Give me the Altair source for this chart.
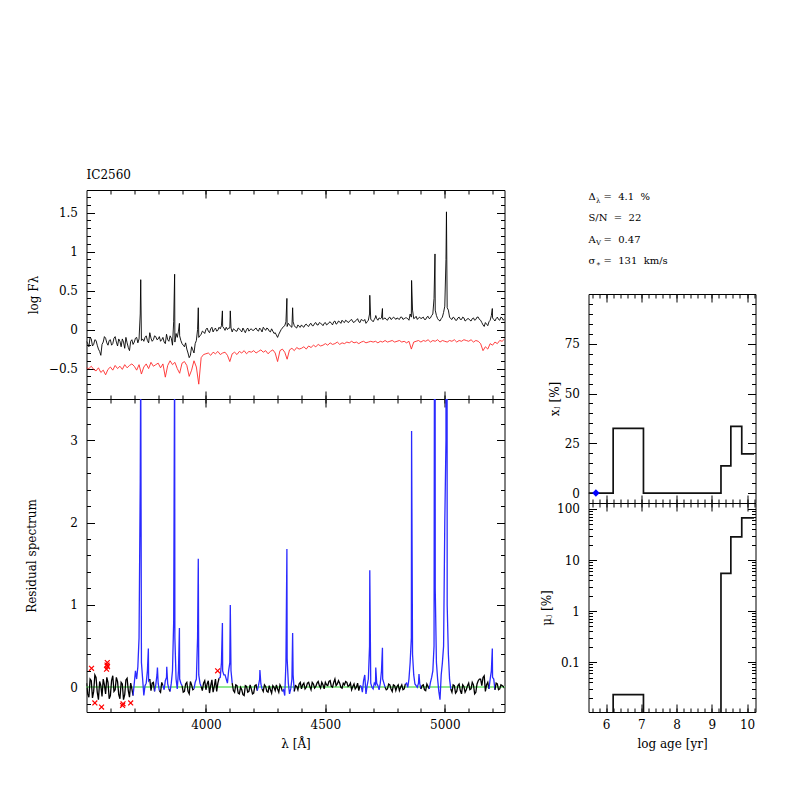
import altair as alt
import numpy as np
import pandas as pd

FONT = "DejaVu Serif"
NB = "\u00a0"

# ---------------- data ----------------
wave_start, wave_end, wave_step = 3500, 5250, 10

# observed log flux on the 10 A grid (3500..5250)
obs_logf = [
    -0.15, -0.22, -0.12, -0.19, -0.14, -0.25, -0.33, -0.16, -0.11, -0.20,
    -0.13, -0.18, -0.09, -0.21, -0.15, -0.12, -0.24, -0.17, -0.27, -0.13,
    -0.16, -0.10, -0.12, -0.14, -0.15, -0.08, -0.17, -0.11, -0.13, -0.09,
    -0.12, -0.15, -0.10, -0.18, -0.13, -0.08, -0.20, -0.16, -0.10, -0.08,
    -0.18, -0.22, -0.25, -0.36, -0.22, -0.30, -0.14, -0.10, -0.06, -0.03,
    0.00, -0.02, 0.01, -0.03, 0.02, -0.01, 0.01, 0.04, -0.01, 0.00,
    0.02, -0.03, 0.00, -0.02, 0.01, -0.03, -0.01, 0.00, -0.02, 0.01,
    -0.01, 0.02, -0.02, 0.00, 0.03, -0.01, 0.01, -0.03, -0.02, -0.04,
    -0.10, -0.03, 0.02, 0.05, 0.04, 0.06, 0.03, 0.05, 0.02, 0.04,
    0.06, 0.03, 0.07, 0.04, 0.08, 0.05, 0.09, 0.06, 0.08, 0.05,
    0.09, 0.07, 0.10, 0.06, 0.11, 0.08, 0.10, 0.12, 0.09, 0.11,
    0.10, 0.13, 0.09, 0.12, 0.10, 0.13, 0.11, 0.08, 0.12, 0.13,
    0.10, 0.16, 0.12, 0.14, 0.13, 0.15, 0.12, 0.16, 0.14, 0.15,
    0.15, 0.13, 0.16, 0.14, 0.15, 0.12, 0.16, 0.14, 0.17, 0.15,
    0.14, 0.16, 0.13, 0.17, 0.15, 0.20, 0.25, 0.14, 0.11, 0.16,
    0.30, 0.28, 0.16, 0.13, 0.15, 0.12, 0.16, 0.13, 0.15, 0.12,
    0.14, 0.11, 0.15, 0.13, 0.16, 0.12, 0.06, 0.09, 0.05, 0.12,
    0.15, 0.11, 0.16, 0.12, 0.15, 0.14,
]
# observed log flux at the half steps (3505..5245)
obs_logf_half = [
    -0.18, -0.10, -0.21, -0.13, -0.20, -0.28, -0.19, -0.09, -0.17, -0.14,
    -0.20, -0.11, -0.16, -0.12, -0.22, -0.16, -0.10, -0.23, -0.15, -0.19,
    -0.11, -0.17, 0.20, -0.12, -0.10, -0.14, -0.04, -0.15, -0.08, -0.13,
    -0.09, -0.13, -0.16, -0.06, -0.15, -0.11, 0.10, -0.05, -0.02, -0.14,
    -0.20, -0.17, -0.30, -0.33, -0.26, -0.18, 0.00, -0.08, -0.02, -0.05,
    0.02, -0.04, 0.03, 0.00, -0.02, 0.03, 0.05, 0.02, 0.03, 0.02,
    0.02, 0.01, -0.02, 0.02, -0.01, 0.02, -0.04, 0.02, 0.00, -0.01,
    0.01, -0.01, 0.02, -0.03, 0.01, 0.02, -0.02, 0.01, -0.05, -0.07,
    -0.06, 0.00, 0.04, 0.10, 0.08, 0.04, 0.10, 0.03, 0.06, 0.03,
    0.04, 0.06, 0.05, 0.07, 0.05, 0.08, 0.06, 0.09, 0.07, 0.08,
    0.06, 0.09, 0.08, 0.10, 0.07, 0.11, 0.08, 0.10, 0.12, 0.09,
    0.12, 0.10, 0.11, 0.14, 0.09, 0.12, 0.13, 0.10, 0.20, 0.12,
    0.13, 0.14, 0.15, 0.15, 0.14, 0.13, 0.15, 0.13, 0.16, 0.13,
    0.14, 0.16, 0.13, 0.15, 0.14, 0.20, 0.25, 0.15, 0.13, 0.16,
    0.15, 0.13, 0.16, 0.14, 0.18, 0.40, 0.18, 0.12, 0.14, 0.22,
    0.90, 0.25, 0.14, 0.16, 0.12, 0.15, 0.13, 0.16, 0.11, 0.14,
    0.12, 0.14, 0.12, 0.16, 0.13, 0.09, 0.04, 0.07, 0.10, 0.18,
    0.13, 0.14, 0.13, 0.16, 0.12,
]
obs_peak_wave = [3727, 3869, 3889, 3968, 4069, 4102, 4339, 4363, 4686, 4711,
                 4739, 4861, 4959, 5007, 5199]
obs_peak_logf = [0.64, 0.71, 0.08, 0.28, 0.24, 0.24, 0.40, 0.28, 0.44, 0.18,
                 0.27, 0.63, 0.97, 1.51, 0.27]

# model log flux (shown offset below the data) on the 10 A grid
model_logf = [
    -0.49, -0.50, -0.47, -0.51, -0.53, -0.49, -0.55, -0.52, -0.58, -0.51,
    -0.48, -0.52, -0.46, -0.50, -0.47, -0.51, -0.45, -0.49, -0.46, -0.44,
    -0.47, -0.52, -0.45, -0.57, -0.48, -0.44, -0.50, -0.42, -0.47, -0.45,
    -0.43, -0.49, -0.44, -0.61, -0.46, -0.40, -0.45, -0.42, -0.50, -0.56,
    -0.43, -0.41, -0.46, -0.60, -0.52, -0.40, -0.48, -0.70, -0.36, -0.32,
    -0.31, -0.30, -0.33, -0.29, -0.31, -0.28, -0.32, -0.30, -0.29, -0.33,
    -0.41, -0.31, -0.29, -0.32, -0.28, -0.30, -0.27, -0.31, -0.28, -0.29,
    -0.27, -0.30, -0.28, -0.26, -0.29, -0.27, -0.31, -0.28, -0.26, -0.30,
    -0.41, -0.27, -0.25, -0.29, -0.38, -0.26, -0.24, -0.27, -0.23, -0.25,
    -0.24, -0.22, -0.25, -0.21, -0.23, -0.20, -0.22, -0.19, -0.21, -0.20,
    -0.18, -0.20, -0.17, -0.19, -0.18, -0.16, -0.19, -0.17, -0.18, -0.16,
    -0.17, -0.15, -0.17, -0.16, -0.18, -0.16, -0.15, -0.17, -0.16, -0.15,
    -0.16, -0.15, -0.17, -0.15, -0.16, -0.14, -0.16, -0.15, -0.14, -0.16,
    -0.15, -0.14, -0.16, -0.15, -0.17, -0.15, -0.25, -0.16, -0.15, -0.14,
    -0.16, -0.14, -0.15, -0.13, -0.16, -0.14, -0.15, -0.13, -0.16, -0.14,
    -0.15, -0.16, -0.14, -0.15, -0.13, -0.16, -0.14, -0.15, -0.13, -0.14,
    -0.15, -0.13, -0.16, -0.14, -0.15, -0.18, -0.27, -0.22, -0.25, -0.18,
    -0.20, -0.16, -0.18, -0.14, -0.15, -0.12,
]

# residual spectrum on the 10 A grid
resid = [
    0.05, -0.12, 0.08, -0.05, 0.12, -0.15, 0.02, 0.10, -0.08, 0.06,
    -0.10, 0.14, -0.03, 0.07, -0.14, 0.04, -0.09, 0.11, -0.12, -0.02,
    0.05, 0.10, 0.60, 0.30, -0.10, 0.05, 0.08, -0.04, 0.06, 0.03,
    0.05, -0.06, 0.02, 0.08, 0.04, -0.05, 0.20, 0.60, -0.02, 0.10,
    0.02, -0.05, 0.06, -0.08, 0.03, -0.02, 0.10, 0.15, 0.01, 0.05,
    -0.03, 0.08, 0.02, -0.06, 0.10, 0.05, 0.12, 0.20, 0.15, 0.05,
    0.30, 0.05, -0.06, 0.02, -0.08, -0.03, -0.10, 0.01, -0.05, -0.02,
    -0.07, 0.03, 0.02, 0.04, -0.05, 0.01, -0.06, -0.03, 0.02, -0.04,
    -0.02, 0.03, -0.05, -0.10, 0.35, -0.08, 0.10, -0.05, 0.01, 0.04,
    -0.02, 0.05, 0.00, 0.06, -0.03, 0.04, 0.01, 0.07, -0.01, 0.03,
    0.06, 0.02, 0.08, 0.00, 0.10, 0.04, 0.05, -0.01, 0.03, 0.06,
    0.02, -0.03, 0.04, 0.00, -0.04, 0.01, 0.08, -0.08, 0.10, 0.05,
    -0.02, 0.03, 0.02, 0.05, 0.10, 0.00, -0.02, 0.03, -0.05, 0.02,
    0.01, -0.04, 0.03, -0.02, 0.05, 0.10, 0.60, 0.15, 0.02, 0.05,
    -0.02, 0.03, -0.04, 0.01, 0.06, 0.20, 1.20, 0.10, -0.15, 0.30,
    2.00, 1.00, 0.10, -0.06, 0.02, -0.05, 0.04, -0.08, 0.01, -0.03,
    0.05, -0.02, 0.03, -0.06, 0.08, 0.10, 0.12, -0.05, 0.06, 0.10,
    0.12, -0.03, 0.04, -0.02, 0.02, -0.01,
]
# residual at the half steps (3505..5245)
resid_half = [
    -0.08, 0.10, -0.13, 0.15, -0.06, 0.07, -0.11, 0.03, 0.12, -0.14,
    0.08, -0.05, 0.12, -0.09, 0.06, -0.15, 0.09, -0.04, 0.05, -0.10,
    0.20, 0.25, 2.50, 0.10, 0.02, 0.20, 0.10, 0.05, -0.05, 0.15,
    -0.04, 0.06, -0.03, 0.12, -0.02, 0.05, 0.80, 0.10, 0.20, 0.05,
    -0.06, 0.04, -0.05, 0.07, -0.03, 0.06, 0.60, 0.05, -0.04, 0.08,
    0.04, -0.07, 0.09, 0.01, -0.05, 0.11, 0.30, 0.15, 0.10, 0.20,
    0.20, -0.04, 0.03, -0.07, 0.00, -0.09, 0.02, -0.06, 0.03, -0.08,
    0.02, -0.04, 0.10, -0.02, 0.03, -0.05, 0.02, -0.07, 0.00, 0.03,
    -0.06, 0.00, -0.03, 0.30, 0.05, -0.02, 0.15, 0.02, -0.03, 0.06,
    0.03, -0.02, 0.05, 0.01, 0.06, -0.01, 0.05, 0.02, 0.06, -0.02,
    0.03, 0.07, 0.01, 0.06, 0.02, 0.08, 0.00, 0.05, 0.07, 0.01,
    0.05, 0.01, -0.02, 0.05, 0.02, -0.06, 0.15, 0.02, 0.50, 0.00,
    0.05, 0.05, -0.03, 0.20, 0.05, -0.03, 0.04, -0.02, 0.03, -0.04,
    0.03, 0.00, -0.03, 0.04, 0.00, 0.30, 0.40, 0.04, 0.00, 0.05,
    0.02, -0.03, 0.04, -0.02, 0.12, 0.50, 0.30, -0.05, 0.15, 0.50,
    3.00, 0.40, -0.02, 0.03, -0.07, 0.02, -0.04, 0.03, -0.06, 0.02,
    -0.03, 0.06, -0.08, 0.04, 0.10, 0.02, 0.14, 0.03, -0.02, 0.20,
    0.10, 0.05, -0.03, 0.03, 0.01,
]
res_peak_wave = [3727, 3759, 3797, 3836, 3869, 3889, 3968, 4069, 4102, 4226,
                 4339, 4363, 4686, 4711, 4739, 4861, 4892, 4959, 5007, 5199]
res_peak_val = [4.0, 0.47, 0.24, 0.25, 4.2, 0.72, 1.56, 0.78, 1.0, 0.21,
                1.68, 0.66, 1.42, 0.24, 0.48, 3.11, 0.16, 9.0, 27.0, 0.47]

mask_windows = [(3700, 3745), (3750, 3765), (3790, 3805), (3825, 3845),
                (3855, 3900), (3955, 3980), (4060, 4110), (4218, 4235),
                (4325, 4370), (4650, 4750), (4840, 4900), (4940, 5025),
                (5190, 5210)]

flag_wave = [3521, 3535, 3563, 3584, 3586, 3587, 3588, 3651, 3653, 3685, 4049]
flag_val = [0.23, -0.19, -0.24, 0.22, 0.27, 0.30, 0.25, -0.22, -0.20, -0.19, 0.20]

age_edges = [5.5, 6.2, 7.06, 9.26, 9.54, 9.85, 10.2]
xj_pct = [0, 32.5, 0, 13.7, 33.5, 19.7]
muj_pct = [0, 0.023, 0, 5.5, 28.5, 67.0]
young_age, young_xj = 5.71, 0

info_head = ["\u0394", "S/N" + NB * 2 + "=" + NB * 2 + "22", "A", "\u03c3"]
info_sub = ["\u03bb", "", "V", "\u2217"]
info_tail = ["=" + NB * 2 + "4.1" + NB * 2 + "%", "",
             "=" + NB * 2 + "0.47",
             "=" + NB * 2 + "131" + NB * 2 + "km/s"]

# ---------------- tables ----------------
grid = list(range(wave_start, wave_end + 1, wave_step))
grid_half = list(range(wave_start + wave_step // 2, wave_end, wave_step))

obs_df = pd.DataFrame({"w": grid + grid_half + obs_peak_wave,
                       "f": obs_logf + obs_logf_half + obs_peak_logf}).sort_values("w", kind="stable")
mod_df = pd.DataFrame({"w": grid, "f": model_logf})

rw = grid + grid_half + res_peak_wave
rv = resid + resid_half + res_peak_val
order = np.argsort(rw, kind="stable")
rows, seg, prev = [], 0, None
for i in order:
    w, v = rw[i], rv[i]
    m = any(a <= w <= b for a, b in mask_windows)
    kind = "masked" if m else "fit"
    if prev is not None and m != prev[2]:
        seg += 1
        rows.append({"w": prev[0], "r": prev[1], "seg": seg, "kind": kind})
    rows.append({"w": w, "r": v, "seg": seg, "kind": kind})
    prev = (w, v, m)
res_df = pd.DataFrame(rows)
flag_df = pd.DataFrame({"w": flag_wave, "r": flag_val})

sfh_df = pd.DataFrame({
    "age": age_edges,
    "xj": xj_pct + [xj_pct[-1]],
    "mu": [v if v > 0 else 1e-4 for v in muj_pct + [muj_pct[-1]]],
})
young_df = pd.DataFrame({"age": [young_age], "xj": [young_xj]})
info_df = pd.DataFrame({"row": list(range(len(info_head))), "head": info_head,
                        "sub": info_sub, "tail": info_tail})

# ---------------- helpers ----------------
def ax(orient, values, major=True, labels=False, title=None, title_pad=None):
    size = 8 if major else 4
    kw = dict(orient=orient, values=values, tickSize=size, offset=-size, domain=False,
              grid=False, labels=labels, ticks=True, tickColor="black", tickWidth=1,
              labelFlush=False, labelPadding=9 if orient in ("left", "right") else 7,
              title=title, format=".6~g")
    if title_pad is not None:
        kw["titlePadding"] = title_pad
    return alt.Axis(**kw)


def axis_layers(df, xf, yf, xs, ys, xmaj, xmin, ymaj, ymin, xlabels, xtitle, ytitle, ytp, xtp=8):
    base = alt.Chart(df).mark_point(opacity=0, clip=True)
    out = []
    specs = [
        ("bottom", "left", True, xlabels, True, xtitle, ytitle),
        ("top", "right", True, False, False, None, None),
        ("bottom", "left", False, False, False, None, None),
        ("top", "right", False, False, False, None, None),
    ]
    for xo, yo, major, xl, yl, xt, yt in specs:
        out.append(base.encode(
            x=alt.X(f"{xf}:Q", scale=xs,
                    axis=ax(xo, xmaj if major else xmin, major, xl, xt, xtp)),
            y=alt.Y(f"{yf}:Q", scale=ys,
                    axis=ax(yo, ymaj if major else ymin, major, yl, yt, ytp)),
        ))
    return out


def frange(a, b, s):
    return [round(v, 4) for v in np.arange(a, b + s / 2, s)]

# ---------------- scales ----------------
x_wave = alt.Scale(domain=[3500, 5250], nice=False, zero=False)
y_top = alt.Scale(domain=[-0.89, 1.79], nice=False, zero=False)
y_bot = alt.Scale(domain=[-0.3, 3.5], nice=False, zero=False)
x_age = alt.Scale(domain=[5.5, 10.24], nice=False, zero=False)
y_xj = alt.Scale(domain=[-5, 100], nice=False, zero=False)
y_mu = alt.Scale(type="log", domain=[0.01055, 131], nice=False)

wave_major = [4000, 4500, 5000]
wave_minor = frange(3600, 5200, 100)

# ---------------- top-left panel ----------------
tl_axes = axis_layers(mod_df, "w", "f", x_wave, y_top, wave_major, wave_minor,
                      [-0.5, 0, 0.5, 1, 1.5], frange(-0.8, 1.7, 0.1),
                      False, None, "log F\u03bb", 8)
obs_line = alt.Chart(obs_df).mark_line(color="black", strokeWidth=0.9, clip=True).encode(
    x=alt.X("w:Q", scale=x_wave, axis=None), y=alt.Y("f:Q", scale=y_top, axis=None),
    order="w:Q")
mod_line = alt.Chart(mod_df).mark_line(color="#ff2a2a", strokeWidth=0.9, clip=True).encode(
    x=alt.X("w:Q", scale=x_wave, axis=None), y=alt.Y("f:Q", scale=y_top, axis=None))
top_left = alt.layer(*tl_axes, mod_line, obs_line).resolve_axis(
    x="independent", y="independent").properties(
    width=418, height=209,
    title=alt.TitleParams("IC2560", anchor="start", frame="group", font=FONT, fontSize=12,
                          fontWeight="normal", offset=8, color="black"))

# ---------------- bottom-left panel ----------------
bl_axes = axis_layers(res_df, "w", "r", x_wave, y_bot, wave_major, wave_minor,
                      [0, 1, 2, 3], frange(-0.2, 3.4, 0.2),
                      True, "\u03bb [\u00c5]", "Residual spectrum", 31)
zero_line = alt.Chart(res_df).mark_rule(color="#90e890", strokeWidth=1.6).encode(
    y=alt.YDatum(0, scale=y_bot, axis=None))
res_line = alt.Chart(res_df).mark_line(strokeWidth=1.3, clip=True).encode(
    x=alt.X("w:Q", scale=x_wave, axis=None),
    y=alt.Y("r:Q", scale=y_bot, axis=None),
    detail="seg:N",
    order="w:Q",
    color=alt.Color("kind:N", scale=alt.Scale(domain=["fit", "masked"], range=["black", "#2a2aff"]),
                    legend=None),
)
flags = alt.Chart(flag_df).mark_point(shape="M-1,-1L1,1M-1,1L1,-1", filled=False, size=24,
                                      strokeWidth=1.2, color="red", opacity=1, clip=True).encode(
    x=alt.X("w:Q", scale=x_wave, axis=None), y=alt.Y("r:Q", scale=y_bot, axis=None))
bottom_left = alt.layer(*bl_axes, zero_line, res_line, flags).resolve_axis(
    x="independent", y="independent").properties(width=418, height=313)

# ---------------- info text ----------------
ibase = alt.Chart(info_df).encode(
    y=alt.Y("row:Q", scale=alt.Scale(domain=[-0.47, 4.41], reverse=True), axis=None),
    x=alt.value(0))
ihead = ibase.mark_text(align="left", baseline="alphabetic", font=FONT, fontSize=10,
                        color="black").encode(text="head:N")
isub = ibase.mark_text(align="left", baseline="alphabetic", font=FONT, fontSize=7,
                       dx=7.5, dy=2.5, color="black").encode(text="sub:N")
itail = ibase.mark_text(align="left", baseline="alphabetic", font=FONT, fontSize=10,
                        dx=15, color="black").encode(text="tail:N")
info = alt.layer(ihead, isub, itail).properties(width=167, height=104,
                                                view=alt.ViewBackground(strokeOpacity=0))

# ---------------- SFH panels ----------------
age_major = [6, 7, 8, 9, 10]
age_minor = frange(5.6, 10.2, 0.2)

xj_axes = axis_layers(sfh_df, "age", "xj", x_age, y_xj, age_major, age_minor,
                      [0, 25, 50, 75], frange(5, 95, 5),
                      False, None, "x\u2c7c [%]", 3)
xj_line = alt.Chart(sfh_df).mark_line(interpolate="step-after", color="#111111",
                                      strokeWidth=1.7, clip=True).encode(
    x=alt.X("age:Q", scale=x_age, axis=None), y=alt.Y("xj:Q", scale=y_xj, axis=None))
young = alt.Chart(young_df).mark_point(shape="diamond", filled=True, size=55,
                                       color="blue", opacity=1).encode(
    x=alt.X("age:Q", scale=x_age, axis=None), y=alt.Y("xj:Q", scale=y_xj, axis=None))
xj_panel = alt.layer(*xj_axes, xj_line, young).resolve_axis(
    x="independent", y="independent").properties(width=167, height=209)

mu_minor = [m * d for d in [0.01, 0.1, 1, 10] for m in range(2, 10)]
mu_axes = axis_layers(sfh_df, "age", "mu", x_age, y_mu, age_major, age_minor,
                      [0.1, 1, 10, 100], mu_minor,
                      True, "log age [yr]", "\u03bc\u2c7c [%]", 3)
mu_line = alt.Chart(sfh_df).mark_line(interpolate="step-after", color="#111111",
                                      strokeWidth=1.7, clip=True).encode(
    x=alt.X("age:Q", scale=x_age, axis=None), y=alt.Y("mu:Q", scale=y_mu, axis=None))
mu_panel = alt.layer(*mu_axes, mu_line).resolve_axis(
    x="independent", y="independent").properties(width=167, height=209)

left = alt.vconcat(top_left, bottom_left, spacing=0, bounds="flush")
right = alt.vconcat(info, xj_panel, mu_panel, spacing=0, bounds="flush")

# nested concat groups count as zero-width under flush bounds, so the spacing
# spans the left panel width plus the gap between the columns
chart = alt.hconcat(left, right, spacing=418 + 84, bounds="flush").properties(
    padding={"left": 16.5, "top": 160, "right": 5, "bottom": 5}
).configure_view(stroke="black", strokeWidth=1).configure_axis(
    labelFont=FONT, titleFont=FONT, labelFontSize=12, titleFontSize=12,
    titleFontWeight="normal", labelColor="black", titleColor="black"
).configure_mark(font=FONT)

chart.save("out.html", embed_options={"renderer": "svg", "actions": False})
